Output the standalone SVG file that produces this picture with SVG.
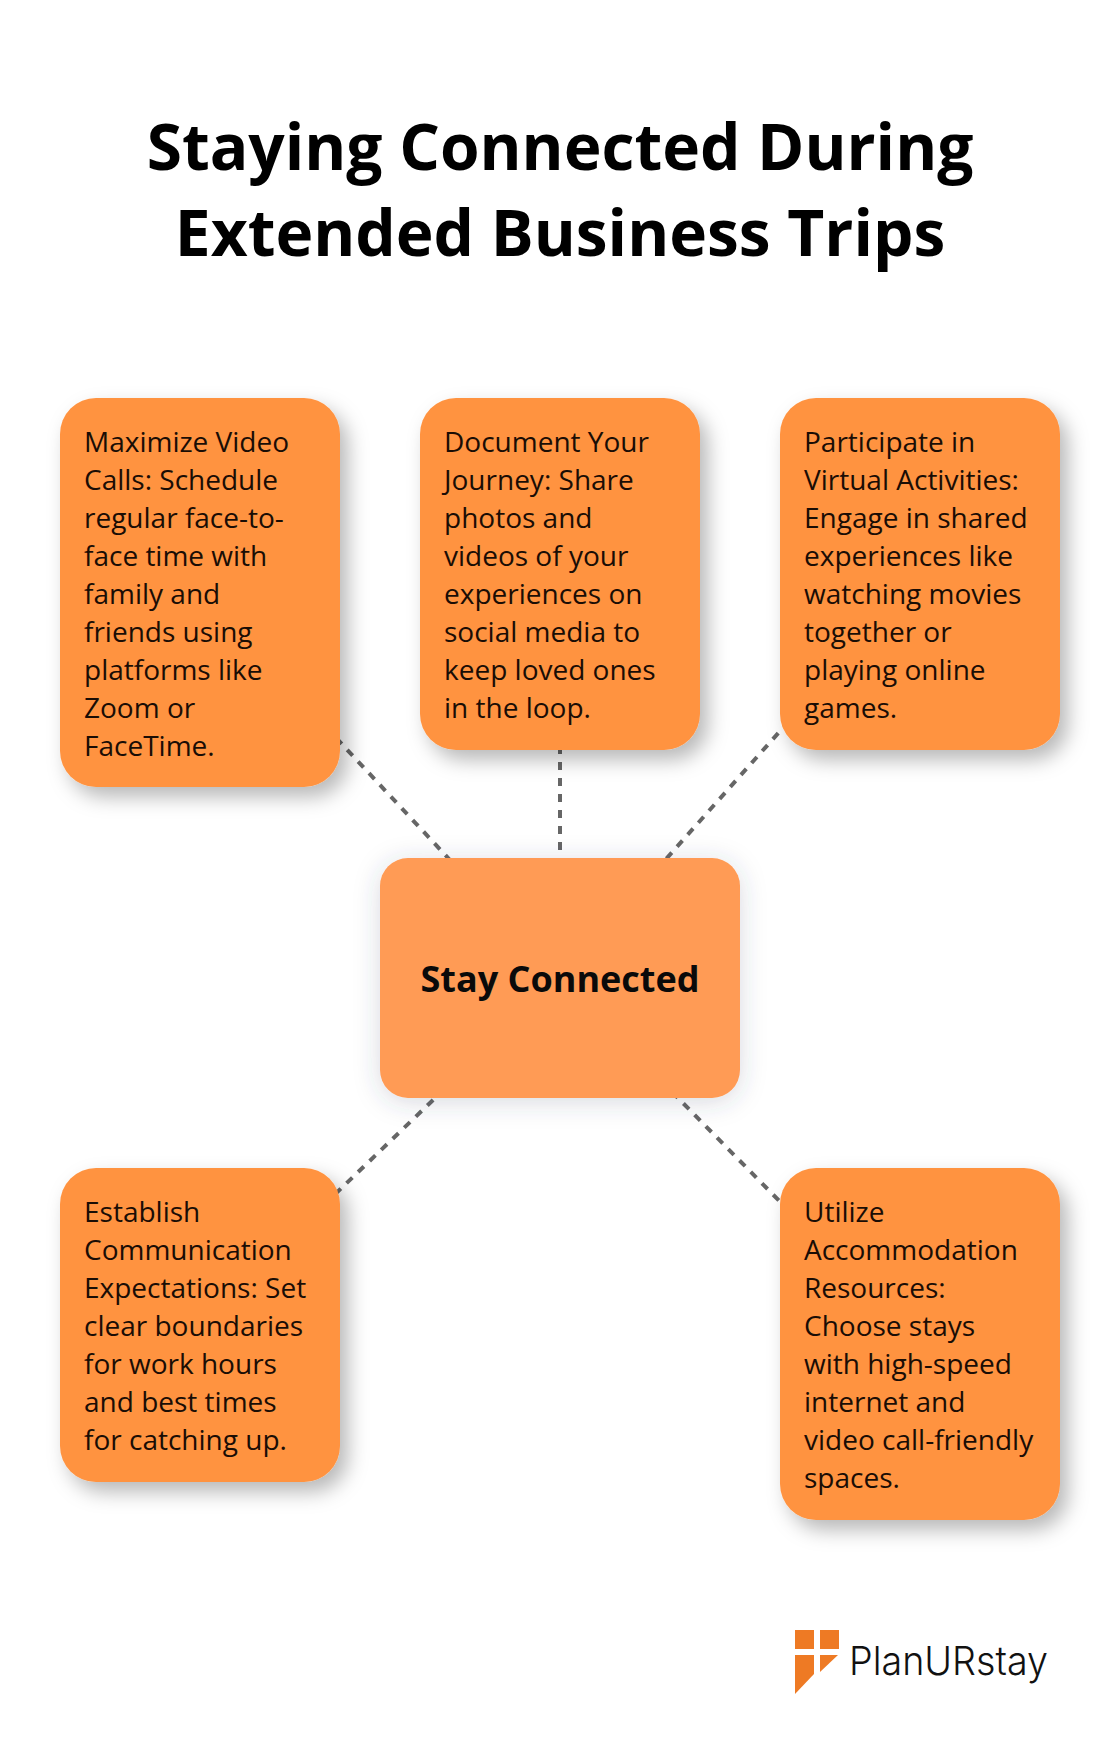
<svg xmlns="http://www.w3.org/2000/svg" width="1120" height="1760" viewBox="0 0 1120 1760">
<style>
text{font-family:"Open Sans","Noto Sans","Liberation Sans",sans-serif}
.title{font-size:64px;font-weight:700;fill:#000;text-anchor:middle}
.leaf{fill:#ff9340;filter:url(#ls)}
.hub{fill:#ff9b54;filter:url(#hs)}
.t{font-size:28px;fill:#1a0d05}
.ht{font-size:36px;font-weight:700;fill:#0a0a0a;text-anchor:middle}
.c{stroke:#666;stroke-width:4;stroke-dasharray:8 8;fill:none}
.lg{fill:#ee7a24}
.lt{font-family:"Inter","Noto Sans",sans-serif;font-size:40px;font-weight:300;fill:#111}
</style>
<defs>
<filter id="ls" x="-20%" y="-20%" width="150%" height="150%"><feDropShadow dx="8" dy="10" stdDeviation="10" flood-color="#000" flood-opacity=".28"/></filter>
<filter id="hs" x="-20%" y="-30%" width="140%" height="170%"><feDropShadow dx="0" dy="4" stdDeviation="13" flood-color="#3a4a60" flood-opacity=".2"/></filter>
</defs>
<rect width="1120" height="1760" fill="#fff"/>
<g id="title"><text class="title" x="560" y="170">Staying Connected During</text><text class="title" x="560" y="256">Extended Business Trips</text></g>
<g id="connectors">
<line class="c" x1="560" y1="978" x2="200" y2="592"/>
<line class="c" x1="560" y1="978" x2="560" y2="574"/>
<line class="c" x1="560" y1="978" x2="920" y2="574"/>
<line class="c" x1="560" y1="978" x2="200" y2="1324"/>
<line class="c" x1="560" y1="978" x2="920" y2="1344"/>
</g>
<g id="node-video"><rect class="leaf" x="60" y="398" width="280" height="389" rx="36"/><text class="t"><tspan x="84" y="452">Maximize Video</tspan><tspan x="84" y="490">Calls: Schedule</tspan><tspan x="84" y="528">regular face-to-</tspan><tspan x="84" y="566">face time with</tspan><tspan x="84" y="604">family and</tspan><tspan x="84" y="642">friends using</tspan><tspan x="84" y="680">platforms like</tspan><tspan x="84" y="718">Zoom or</tspan><tspan x="84" y="756">FaceTime.</tspan></text></g>
<g id="node-journey"><rect class="leaf" x="420" y="398" width="280" height="352" rx="36"/><text class="t"><tspan x="444" y="452">Document Your</tspan><tspan x="444" y="490">Journey: Share</tspan><tspan x="444" y="528">photos and</tspan><tspan x="444" y="566">videos of your</tspan><tspan x="444" y="604">experiences on</tspan><tspan x="444" y="642">social media to</tspan><tspan x="444" y="680">keep loved ones</tspan><tspan x="444" y="718">in the loop.</tspan></text></g>
<g id="node-virtual"><rect class="leaf" x="780" y="398" width="280" height="352" rx="36"/><text class="t"><tspan x="804" y="452">Participate in</tspan><tspan x="804" y="490">Virtual Activities:</tspan><tspan x="804" y="528">Engage in shared</tspan><tspan x="804" y="566">experiences like</tspan><tspan x="804" y="604">watching movies</tspan><tspan x="804" y="642">together or</tspan><tspan x="804" y="680">playing online</tspan><tspan x="804" y="718">games.</tspan></text></g>
<g id="node-hub"><rect class="hub" x="380" y="858" width="360" height="240" rx="28"/><text class="ht" x="560" y="992">Stay Connected</text></g>
<g id="node-expect"><rect class="leaf" x="60" y="1168" width="280" height="314" rx="36"/><text class="t"><tspan x="84" y="1222">Establish</tspan><tspan x="84" y="1260">Communication</tspan><tspan x="84" y="1298">Expectations: Set</tspan><tspan x="84" y="1336">clear boundaries</tspan><tspan x="84" y="1374">for work hours</tspan><tspan x="84" y="1412">and best times</tspan><tspan x="84" y="1450">for catching up.</tspan></text></g>
<g id="node-resources"><rect class="leaf" x="780" y="1168" width="280" height="352" rx="36"/><text class="t"><tspan x="804" y="1222">Utilize</tspan><tspan x="804" y="1260">Accommodation</tspan><tspan x="804" y="1298">Resources:</tspan><tspan x="804" y="1336">Choose stays</tspan><tspan x="804" y="1374">with high-speed</tspan><tspan x="804" y="1412">internet and</tspan><tspan x="804" y="1450">video call-friendly</tspan><tspan x="804" y="1488">spaces.</tspan></text></g>
<g id="logo">
<rect class="lg" x="795" y="1630" width="19" height="19"/><rect class="lg" x="820" y="1630" width="19" height="19"/>
<polygon class="lg" points="795,1655 814,1655 814,1674 795,1694"/><polygon class="lg" points="820,1655 838,1655 820,1672"/>
<text class="lt" x="849" y="1675" textLength="199" lengthAdjust="spacingAndGlyphs">PlanURstay</text>
</g>
</svg>
